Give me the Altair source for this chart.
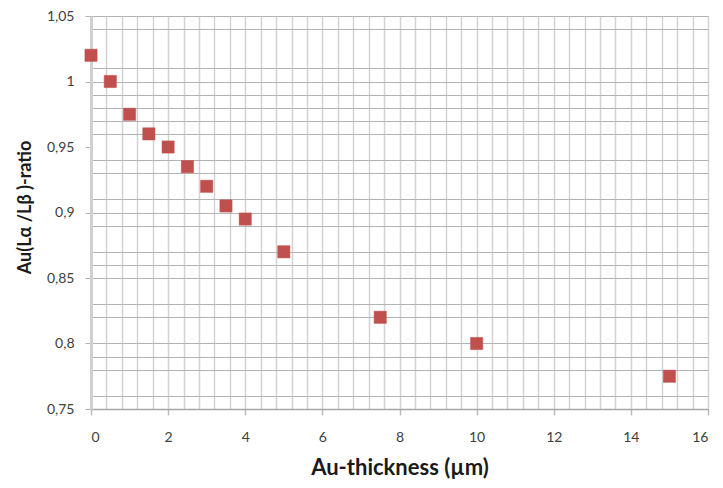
import altair as alt
import pandas as pd

# Data
thickness = [0, 0.5, 1, 1.5, 2, 2.5, 3, 3.5, 4, 5, 7.5, 10, 15]
ratio = [1.02, 1.00, 0.975, 0.96, 0.95, 0.935, 0.92, 0.905, 0.895, 0.87, 0.82, 0.80, 0.775]

# Axis tick/grid positions
x_values = [round(i * 0.4, 1) for i in range(41)]          # minor grid every 0.4
y_values = [round(0.75 + i * 0.01, 2) for i in range(31)]  # minor grid every 0.01
y_hidden_grid = [103, 102, 95, 92, 88, 84, 81, 77]         # grid lines not visible in the reference

df = pd.DataFrame({"t": thickness, "r": ratio})

x_major = "abs(datum.value/2 - round(datum.value/2)) < 0.01"
y_major = "round(datum.value*100) % 5 == 0"
hidden = "indexof(" + str(y_hidden_grid) + ", round(datum.value*100)) >= 0"

chart = alt.Chart(df).mark_point(
    shape="square", filled=True, size=150, color="#C0504D", opacity=1,
    stroke="#C0504D", strokeWidth=0.5
).encode(
    x=alt.X("t:Q",
            scale=alt.Scale(domain=[0, 16], nice=False, zero=True),
            axis=alt.Axis(
                title="Au-thickness (µm)",
                values=x_values,
                labelExpr=x_major + " ? format(datum.value, 'd') : ''",
                labelOverlap=False,
                labelFont="Lato", labelFontSize=14, labelColor="#404040",
                labelPadding=15,
                tickSize=6, tickColor="#bdbdbd", tickWidth=1.5,
                tickOpacity={"condition": {"test": x_major, "value": 1}, "value": 0},
                grid=True, gridColor="#d2d2d2", gridWidth=1.5,
                domain=True, domainColor="#a6a6a6", domainWidth=1.5,
                titleFont="Lato", titleFontSize=22, titleFontWeight="bold",
                titleColor="#1a1a1a", titleBaseline="alphabetic", titleY=65,
            )),
    y=alt.Y("r:Q",
            scale=alt.Scale(domain=[0.75, 1.05], nice=False, zero=False),
            axis=alt.Axis(
                title="Au(Lα /Lβ )-ratio",
                values=y_values,
                labelExpr=y_major + " ? replace(format(datum.value, '.2~f'), '.', ',') : ''",
                labelOverlap=False,
                labelFont="Lato", labelFontSize=14, labelColor="#404040",
                labelPadding=11,
                tickSize=6, tickColor="#b3b3b3", tickWidth=1,
                tickOpacity={"condition": {"test": y_major, "value": 1}, "value": 0},
                grid=True, gridColor="#b3b3b3", gridWidth=1,
                gridOpacity={"condition": {"test": hidden, "value": 0}, "value": 1},
                domain=True, domainColor="#d0d0d0", domainWidth=3,
                titleFont="Lato", titleFontSize=18, titleFontWeight="bold",
                titleColor="#1a1a1a", titleBaseline="alphabetic",
                titleX=-61, titleY=191, titleAngle=270,
            )),
).properties(
    width=617, height=393,
    autosize=alt.AutoSizeParams(type="none"),
    padding={"left": 83, "top": 8, "right": 7, "bottom": 70},
).configure_view(stroke=None)

chart.save("out.html", embed_options={"renderer": "svg", "actions": False})
